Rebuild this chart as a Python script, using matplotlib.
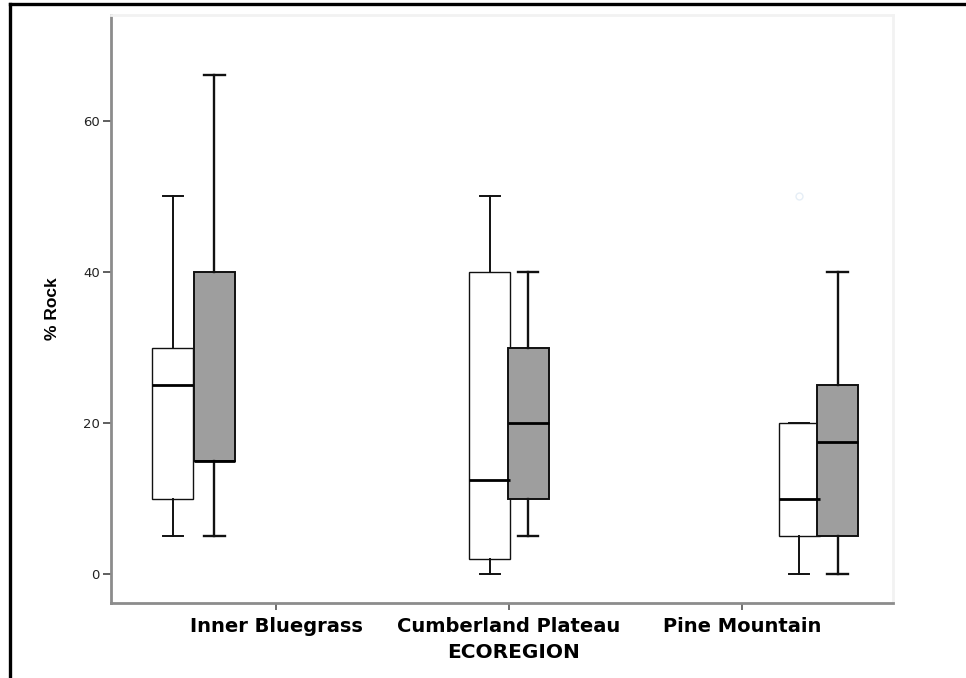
import matplotlib
matplotlib.use("Agg")
import matplotlib.pyplot as plt
from matplotlib.lines import Line2D

# ecoregions on the x axis, two groups (white / grey) per region
regions = ["Inner Bluegrass", "Cumberland Plateau", "Pine Mountain"]

# five-number summaries (% rock)
white_low = [5, 0, 0]
white_q1 = [10, 2, 5]
white_med = [25, 12.5, 10]
white_q3 = [30, 40, 20]
white_high = [50, 50, 20]
white_outliers = [[], [], [50]]

grey_low = [5, 5, 0]
grey_q1 = [15, 10, 5]
grey_med = [15, 20, 17.5]
grey_q3 = [40, 30, 25]
grey_high = [66, 40, 40]
grey_outliers = [[], [], []]

# box centres relative to each region tick (SPSS leaves empty slots)
white_offset = [-0.442, -0.082, 0.245]
grey_offset = [-0.264, 0.082, 0.410]


def make_stats(low, q1, med, q3, high, fliers):
    return [
        dict(whislo=lo, q1=a, med=m, q3=b, whishi=hi, fliers=f)
        for lo, a, m, b, hi, f in zip(low, q1, med, q3, high, fliers)
    ]


fig = plt.figure(figsize=(9.66, 6.78), dpi=100)
ax = fig.add_axes([0.1149, 0.1106, 0.8095, 0.8674])

box_w = 0.176
cap_w = 0.088

white_stats = make_stats(white_low, white_q1, white_med, white_q3,
                         white_high, white_outliers)
grey_stats = make_stats(grey_low, grey_q1, grey_med, grey_q3,
                        grey_high, grey_outliers)

ax.bxp(
    white_stats,
    positions=[i + o for i, o in enumerate(white_offset)],
    widths=box_w,
    capwidths=cap_w,
    patch_artist=True,
    boxprops=dict(facecolor="white", edgecolor="#111111", linewidth=1.0),
    whiskerprops=dict(color="#111111", linewidth=1.4),
    capprops=dict(color="#111111", linewidth=1.4),
    medianprops=dict(color="black", linewidth=2.0),
    flierprops=dict(marker="o", markersize=5, markerfacecolor="none",
                    markeredgecolor="#e6eef6"),
    manage_ticks=False,
)
ax.bxp(
    grey_stats,
    positions=[i + o for i, o in enumerate(grey_offset)],
    widths=box_w,
    capwidths=cap_w,
    patch_artist=True,
    boxprops=dict(facecolor="#9e9e9e", edgecolor="#111111", linewidth=1.4),
    whiskerprops=dict(color="#111111", linewidth=1.7),
    capprops=dict(color="#111111", linewidth=1.7),
    medianprops=dict(color="black", linewidth=2.0),
    manage_ticks=False,
)

ax.set_xlim(-0.708, 2.648)
ax.set_ylim(-3.8, 74)
ax.set_xticks(range(len(regions)))
ax.set_xticklabels(regions, fontsize=14, fontweight="bold",
                   family="DejaVu Sans")
ax.set_yticks([0, 20, 40, 60])
ax.set_yticklabels(["0", "20", "40", "60"], fontsize=9.5,
                   family="DejaVu Sans", color="#222222")
ax.tick_params(axis="y", length=6, width=1.2, color="#444444", pad=2)
ax.tick_params(axis="x", length=5, width=1.2, color="#555555", pad=5)

for side in ["left", "bottom"]:
    ax.spines[side].set_color("#8c8c8c")
    ax.spines[side].set_linewidth(2.0)
for side in ["top", "right"]:
    ax.spines[side].set_color("#f2f2f2")
    ax.spines[side].set_linewidth(2.0)

ax.set_xlabel("ECOREGION", fontsize=14.5, fontweight="bold",
              family="DejaVu Sans")
ax.set_ylabel("% Rock", fontsize=12.5, fontweight="bold",
              family="Liberation Sans")
ax.yaxis.label.set_va("center")
ax.yaxis.set_label_coords(-0.0754, 0.5)
ax.xaxis.set_label_coords(0.515, -0.068)

# black frame around the picture (top and left edges only are visible)
fig.add_artist(Line2D([0.0104, 1.0], [0.9941, 0.9941], color="black",
                      linewidth=2.4, transform=fig.transFigure))
fig.add_artist(Line2D([0.0104, 0.0104], [0.0, 0.9941], color="black",
                      linewidth=2.4, transform=fig.transFigure))

fig.savefig("out.png", dpi=100)
